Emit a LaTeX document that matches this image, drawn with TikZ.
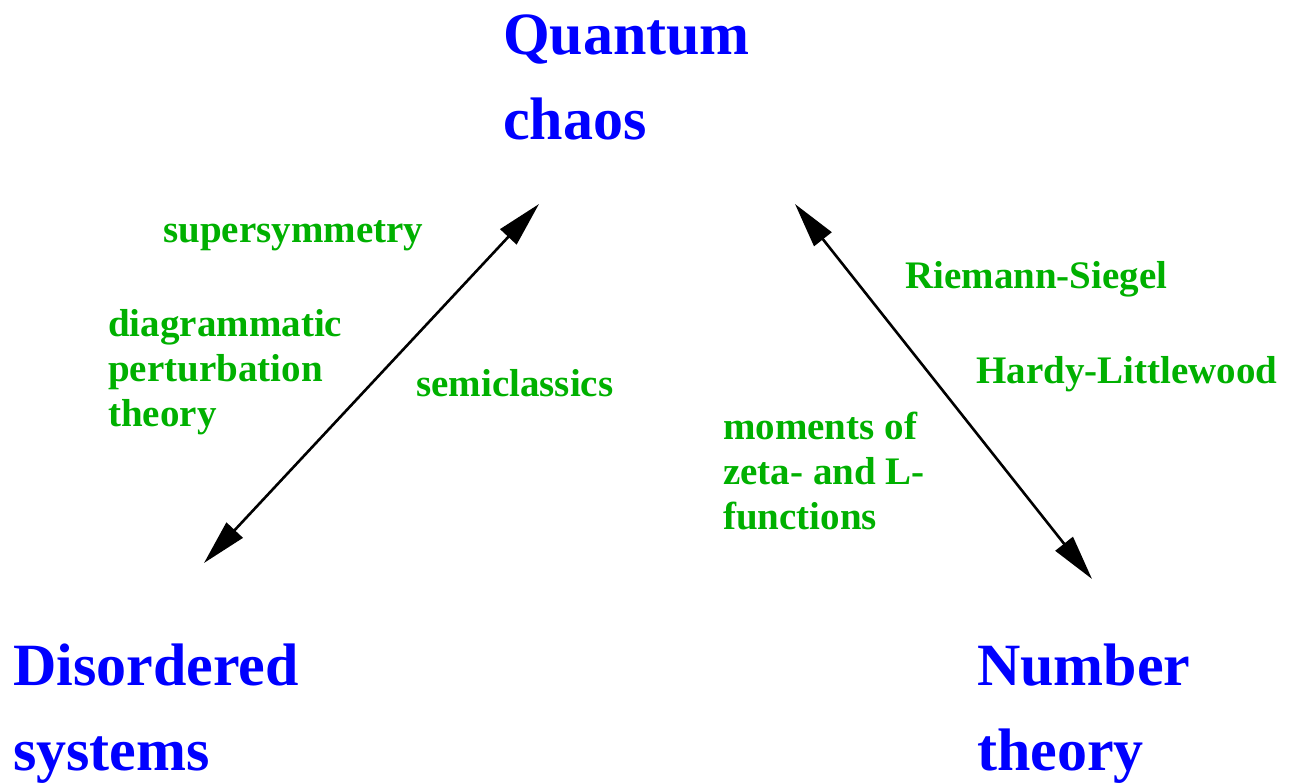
\documentclass[tikz,border=0pt]{standalone}
\usepackage{fontspec}
\setmainfont{Liberation Serif}
\usetikzlibrary{arrows.meta}
\definecolor{mainblue}{RGB}{0,0,255}
\definecolor{labelgreen}{RGB}{0,176,0}
\newcommand{\stackl}[1]{\begin{tabular}[t]{@{}l@{}}#1\end{tabular}}
\begin{document}
\begin{tikzpicture}[x=1pt,y=-1pt,
  topic/.style={anchor=base west, inner sep=0pt, text=mainblue,
    font=\fontsize{60}{85}\selectfont\bfseries},
  method/.style={anchor=base west, inner sep=0pt, text=labelgreen,
    font=\fontsize{39}{45}\selectfont\bfseries},
  link/.style={line width=2.6pt,
    {Triangle[length=45pt,width=22pt]}-{Triangle[length=45pt,width=22pt]}}]
\useasboundingbox (0,0) rectangle (1291,783);
% main topics
\node[topic] (quantum) at (503,55) {\stackl{Quantum\\chaos}};
\node[topic] (disordered) at (13,685) {\stackl{Disordered\\systems}};
\node[topic] (number) at (977,685) {\stackl{Number\\theory}};
% methods
\node[method] (susy) at (163,243) {supersymmetry};
\node[method] (diag) at (108,337) {\stackl{diagrammatic\\perturbation\\theory}};
\node[method] (semi) at (416,397) {semiclassics};
\node[method] (rs) at (905,289) {Riemann-Siegel};
\node[method] (hl) at (976,384) {Hardy-Littlewood};
\node[method] (mom) at (723,440) {\stackl{moments of\\zeta- and L-\\functions}};
% arrow ends
\coordinate (qL) at (539,204);
\coordinate (dT) at (204,563);
\coordinate (qR) at (795,204);
\coordinate (nT) at (1092,579);
\draw[link] (dT) -- (qL);
\draw[link] (qR) -- (nT);
\end{tikzpicture}
\end{document}
